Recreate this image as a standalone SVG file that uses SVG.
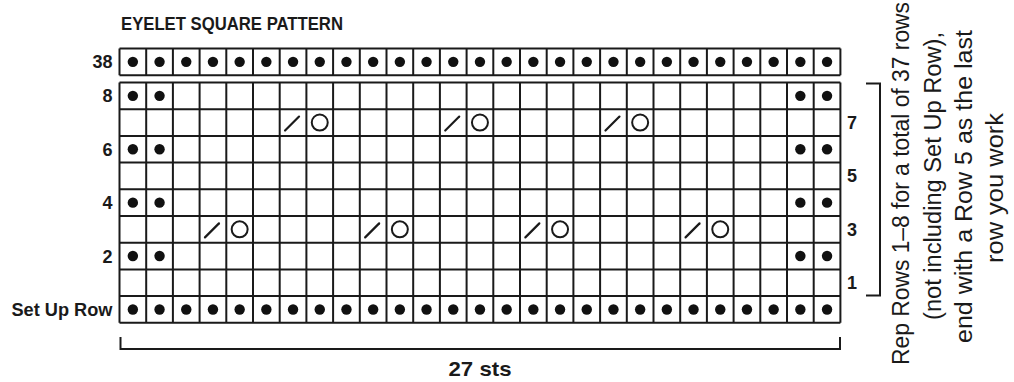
<svg xmlns="http://www.w3.org/2000/svg" xmlns:xlink="http://www.w3.org/1999/xlink" width="1014" height="382" viewBox="0 0 1014 382">
<style>
.grid{fill:none;stroke:#1a1a1a;stroke-width:2}
.dot{fill:#111}
.sl{fill:none;stroke:#1a1a1a;stroke-width:2.2;stroke-linecap:round}
.yo{fill:none;stroke:#1a1a1a;stroke-width:2}
.br{fill:none;stroke:#1a1a1a;stroke-width:2}
text{font-family:"Liberation Sans",Arial,sans-serif;fill:#1a1a1a}
.ttl{font-size:17.5px;font-weight:bold}
.lbl{font-size:18px;font-weight:bold}
.rl{font-size:18px;font-weight:bold}
.sts{font-size:21px;font-weight:bold}
.note{font-size:23px}
</style>
<defs>
<circle id="d" class="dot" r="5.2"/>
<path id="s" class="sl" d="M-8,8 L6,-6"/>
<circle id="o" class="yo" r="8"/>
</defs>
<rect width="1014" height="382" fill="#fff"/>

<g id="title">
<text class="ttl" x="121" y="30" textLength="222" lengthAdjust="spacingAndGlyphs">EYELET SQUARE PATTERN</text>
</g>

<g id="row38-grid">
<path class="grid" d="M119.5 48.5H840.4M119.5 75.2H840.4M119.5 48.5V75.2M146.2 48.5V75.2M172.9 48.5V75.2M199.6 48.5V75.2M226.3 48.5V75.2M253 48.5V75.2M279.7 48.5V75.2M306.4 48.5V75.2M333.1 48.5V75.2M359.8 48.5V75.2M386.5 48.5V75.2M413.2 48.5V75.2M439.9 48.5V75.2M466.6 48.5V75.2M493.3 48.5V75.2M520 48.5V75.2M546.7 48.5V75.2M573.4 48.5V75.2M600.1 48.5V75.2M626.8 48.5V75.2M653.5 48.5V75.2M680.2 48.5V75.2M706.9 48.5V75.2M733.6 48.5V75.2M760.3 48.5V75.2M787 48.5V75.2M813.7 48.5V75.2M840.4 48.5V75.2"/>
</g>

<g id="main-grid">
<path class="grid" d="M119.5 82.5H840.4M119.5 109.2H840.4M119.5 135.9H840.4M119.5 162.6H840.4M119.5 189.3H840.4M119.5 216H840.4M119.5 242.7H840.4M119.5 269.4H840.4M119.5 296.1H840.4M119.5 322.8H840.4M119.5 82.5V322.8M146.2 82.5V322.8M172.9 82.5V322.8M199.6 82.5V322.8M226.3 82.5V322.8M253 82.5V322.8M279.7 82.5V322.8M306.4 82.5V322.8M333.1 82.5V322.8M359.8 82.5V322.8M386.5 82.5V322.8M413.2 82.5V322.8M439.9 82.5V322.8M466.6 82.5V322.8M493.3 82.5V322.8M520 82.5V322.8M546.7 82.5V322.8M573.4 82.5V322.8M600.1 82.5V322.8M626.8 82.5V322.8M653.5 82.5V322.8M680.2 82.5V322.8M706.9 82.5V322.8M733.6 82.5V322.8M760.3 82.5V322.8M787 82.5V322.8M813.7 82.5V322.8M840.4 82.5V322.8"/>
</g>

<g id="row38-dots">
<use href="#d" x="132.85" y="61.85"/><use href="#d" x="159.55" y="61.85"/><use href="#d" x="186.25" y="61.85"/><use href="#d" x="212.95" y="61.85"/><use href="#d" x="239.65" y="61.85"/><use href="#d" x="266.35" y="61.85"/><use href="#d" x="293.05" y="61.85"/><use href="#d" x="319.75" y="61.85"/><use href="#d" x="346.45" y="61.85"/><use href="#d" x="373.15" y="61.85"/><use href="#d" x="399.85" y="61.85"/><use href="#d" x="426.55" y="61.85"/><use href="#d" x="453.25" y="61.85"/><use href="#d" x="479.95" y="61.85"/><use href="#d" x="506.65" y="61.85"/><use href="#d" x="533.35" y="61.85"/><use href="#d" x="560.05" y="61.85"/><use href="#d" x="586.75" y="61.85"/><use href="#d" x="613.45" y="61.85"/><use href="#d" x="640.15" y="61.85"/><use href="#d" x="666.85" y="61.85"/><use href="#d" x="693.55" y="61.85"/><use href="#d" x="720.25" y="61.85"/><use href="#d" x="746.95" y="61.85"/><use href="#d" x="773.65" y="61.85"/><use href="#d" x="800.35" y="61.85"/><use href="#d" x="827.05" y="61.85"/>
</g>

<g id="setup-dots">
<use href="#d" x="132.85" y="309.45"/><use href="#d" x="159.55" y="309.45"/><use href="#d" x="186.25" y="309.45"/><use href="#d" x="212.95" y="309.45"/><use href="#d" x="239.65" y="309.45"/><use href="#d" x="266.35" y="309.45"/><use href="#d" x="293.05" y="309.45"/><use href="#d" x="319.75" y="309.45"/><use href="#d" x="346.45" y="309.45"/><use href="#d" x="373.15" y="309.45"/><use href="#d" x="399.85" y="309.45"/><use href="#d" x="426.55" y="309.45"/><use href="#d" x="453.25" y="309.45"/><use href="#d" x="479.95" y="309.45"/><use href="#d" x="506.65" y="309.45"/><use href="#d" x="533.35" y="309.45"/><use href="#d" x="560.05" y="309.45"/><use href="#d" x="586.75" y="309.45"/><use href="#d" x="613.45" y="309.45"/><use href="#d" x="640.15" y="309.45"/><use href="#d" x="666.85" y="309.45"/><use href="#d" x="693.55" y="309.45"/><use href="#d" x="720.25" y="309.45"/><use href="#d" x="746.95" y="309.45"/><use href="#d" x="773.65" y="309.45"/><use href="#d" x="800.35" y="309.45"/><use href="#d" x="827.05" y="309.45"/>
</g>

<g id="border-dots">
<use href="#d" x="132.85" y="95.85"/><use href="#d" x="159.55" y="95.85"/><use href="#d" x="800.35" y="95.85"/><use href="#d" x="827.05" y="95.85"/>
<use href="#d" x="132.85" y="149.25"/><use href="#d" x="159.55" y="149.25"/><use href="#d" x="800.35" y="149.25"/><use href="#d" x="827.05" y="149.25"/>
<use href="#d" x="132.85" y="202.65"/><use href="#d" x="159.55" y="202.65"/><use href="#d" x="800.35" y="202.65"/><use href="#d" x="827.05" y="202.65"/>
<use href="#d" x="132.85" y="256.05"/><use href="#d" x="159.55" y="256.05"/><use href="#d" x="800.35" y="256.05"/><use href="#d" x="827.05" y="256.05"/>
</g>

<g id="eyelets">
<use href="#s" x="293.05" y="122.55"/><use href="#o" x="319.75" y="122.55"/>
<use href="#s" x="453.25" y="122.55"/><use href="#o" x="479.95" y="122.55"/>
<use href="#s" x="613.45" y="122.55"/><use href="#o" x="640.15" y="122.55"/>
<use href="#s" x="212.95" y="229.35"/><use href="#o" x="239.65" y="229.35"/>
<use href="#s" x="373.15" y="229.35"/><use href="#o" x="399.85" y="229.35"/>
<use href="#s" x="533.35" y="229.35"/><use href="#o" x="560.05" y="229.35"/>
<use href="#s" x="693.55" y="229.35"/><use href="#o" x="720.25" y="229.35"/>
</g>

<g id="left-labels" text-anchor="end">
<text class="lbl" x="112.5" y="68">38</text>
<text class="lbl" x="112.5" y="102.3">8</text>
<text class="lbl" x="112.5" y="155.7">6</text>
<text class="lbl" x="112.5" y="209.1">4</text>
<text class="lbl" x="112.5" y="262.5">2</text>
<text class="lbl" x="112.5" y="316" textLength="101" lengthAdjust="spacingAndGlyphs">Set Up Row</text>
</g>

<g id="right-labels">
<text class="rl" x="847" y="129">7</text>
<text class="rl" x="847" y="182.4">5</text>
<text class="rl" x="847" y="235.8">3</text>
<text class="rl" x="847" y="289.2">1</text>
</g>

<g id="connectors">
<path class="br" d="M866 83.5H880V295.5H866"/>
<path class="br" d="M120.5 337V349H840V337"/>
</g>

<g id="width-label">
<text class="sts" x="480" y="376" text-anchor="middle" textLength="63" lengthAdjust="spacingAndGlyphs">27 sts</text>
</g>

<g id="repeat-note">
<text class="note" transform="translate(909,365) rotate(-90)" textLength="363" lengthAdjust="spacingAndGlyphs">Rep Rows 1–8 for a total of 37 rows</text>
<text class="note" transform="translate(940.5,320) rotate(-90)" textLength="288" lengthAdjust="spacingAndGlyphs">(not including Set Up Row),</text>
<text class="note" transform="translate(972,343) rotate(-90)" textLength="313" lengthAdjust="spacingAndGlyphs">end with a Row 5 as the last</text>
<text class="note" transform="translate(1003,263) rotate(-90)" textLength="150" lengthAdjust="spacingAndGlyphs">row you work</text>
</g>
</svg>
